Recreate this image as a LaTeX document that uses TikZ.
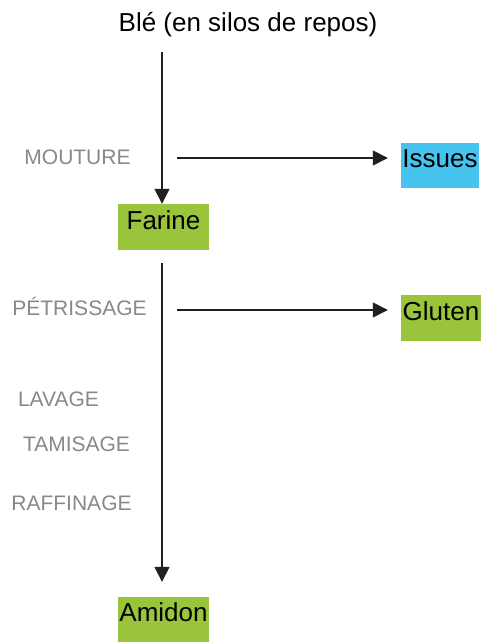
\documentclass[tikz,border=0pt]{standalone}
\usepackage{fontspec}
\setmainfont{Liberation Sans}
\usetikzlibrary{arrows.meta}
\definecolor{leaf}{HTML}{99C43B}
\definecolor{sky}{HTML}{46C3EE}
\definecolor{ink}{HTML}{231F20}
\definecolor{step}{HTML}{888888}
\begin{document}
\begin{tikzpicture}[x=1pt,y=-1pt,
  product/.style={rectangle, inner sep=0pt, minimum height=46pt,
    text height=18pt, text depth=14pt, text=black,
    font=\fontsize{26}{26}\selectfont},
  stage/.style={anchor=base, text=step, inner sep=0pt,
    font=\fontsize{21}{21}\selectfont},
  flow/.style={draw=ink, line width=1.5pt,
    -{Triangle[length=15pt,width=15pt]}}]
  \useasboundingbox (0,0) rectangle (481,642);

  % raw material at the top
  \node[anchor=base, inner sep=0pt, font=\fontsize{26}{26}\selectfont]
    (ble) at (248,32) {Blé (en silos de repos)};
  \coordinate (bleout) at (162,52);

  % products
  \node[product, fill=leaf, minimum width=91pt] (farine) at (163.5,227) {Farine};
  \node[product, fill=sky, minimum width=78pt, minimum height=45pt] (issues) at (440,165.5) {Issues};
  \node[product, fill=leaf, minimum width=80pt] (gluten) at (441,318) {Gluten};
  \node[product, fill=leaf, minimum width=91pt, minimum height=45pt] (amidon) at (163.5,619.5) {Amidon};

  % processing steps
  \node[stage] (mouture) at (77.5,164) {MOUTURE};
  \node[stage] (petrissage) at (79.5,315) {PÉTRISSAGE};
  \node[stage] (lavage) at (58.5,406) {LAVAGE};
  \node[stage] (tamisage) at (76.5,451) {TAMISAGE};
  \node[stage] (raffinage) at (71.5,510) {RAFFINAGE};

  % branch start points
  \coordinate (m0) at (177,158);
  \coordinate (p0) at (177,310);

  % flow of matter
  \draw[flow] (bleout) -- (bleout |- farine.north);
  \draw[flow, shorten <=13pt, shorten >=15pt] (farine.south -| bleout) -- (amidon.north -| bleout);
  \draw[flow, shorten >=13pt] (m0) -- (m0 -| issues.west);
  \draw[flow, shorten >=13pt] (p0) -- (p0 -| gluten.west);
\end{tikzpicture}
\end{document}
